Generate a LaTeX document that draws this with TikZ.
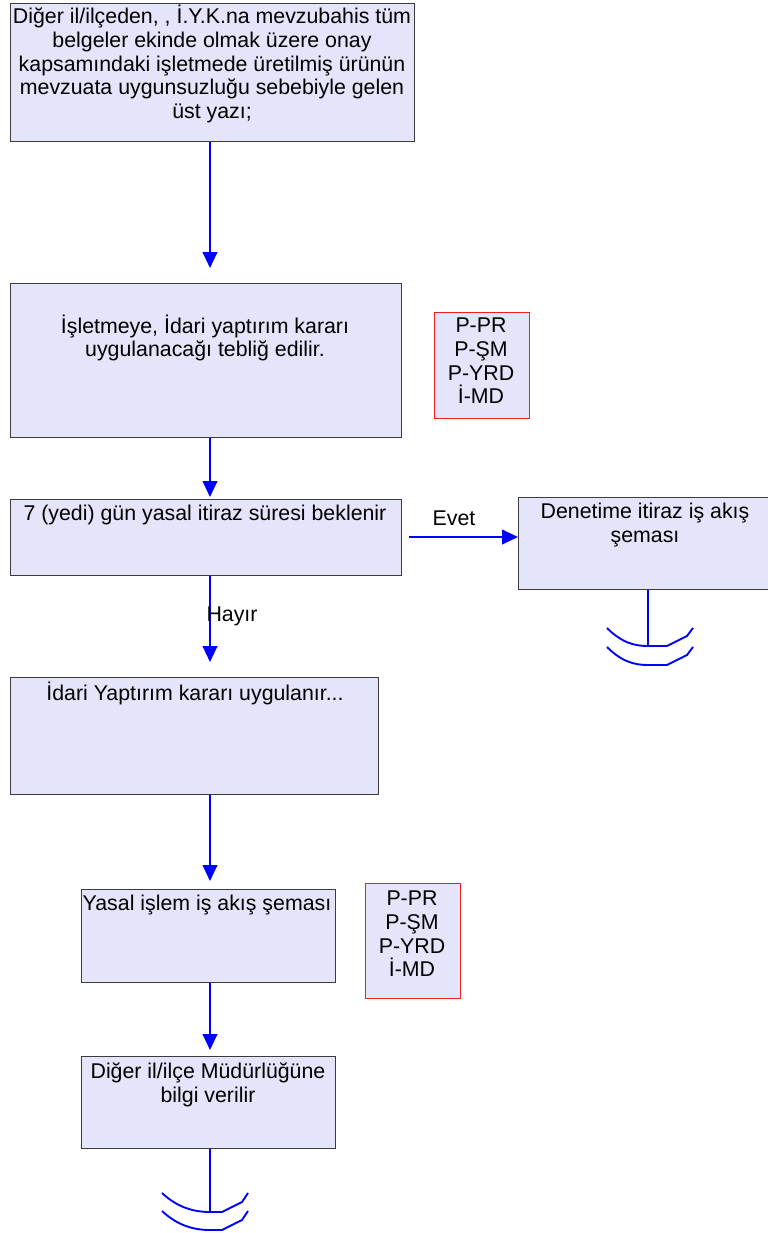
\documentclass[tikz,border=0pt]{standalone}
\usepackage{fontspec}
\setmainfont{Liberation Sans}
\usetikzlibrary{arrows.meta}
\definecolor{boxfill}{RGB}{228,228,250}
\definecolor{boxline}{RGB}{60,60,60}
\definecolor{flowblue}{RGB}{0,0,255}
\definecolor{redline}{RGB}{240,30,30}
\tikzset{
  px/.style={x=0.75pt,y=-0.75pt},
  flowbox/.style={draw=boxline,line width=1.1pt,fill=boxfill,inner sep=0pt,anchor=north west},
  refbox/.style={draw=redline,line width=0.8pt,fill=boxfill,inner sep=0pt,anchor=north west},
  txt/.style={font=\fontsize{16}{17.8}\selectfont,align=center,inner sep=0pt},
  arr/.style={draw=flowblue,line width=1.5pt,-{Triangle[length=12pt,width=11pt]}},
  endline/.style={draw=flowblue,line width=1.4pt},
}
\begin{document}
\begin{tikzpicture}[px]
\clip (0,0) rectangle (768,1233);
\fill[white] (0,0) rectangle (768,1233);
% boxes (size in px converted to pt)
\node[flowbox,minimum width=303pt,minimum height=103.5pt] (b1) at (10,3) {};
\node[flowbox,minimum width=293.25pt,minimum height=115.5pt] (b2) at (10,283) {};
\node[refbox,minimum width=71.25pt,minimum height=79.5pt] (r1) at (434,312) {};
\node[flowbox,minimum width=293.25pt,minimum height=57pt] (b3) at (10,499) {};
\node[flowbox,minimum width=200pt,minimum height=69pt] (b4) at (518,497) {};
\node[flowbox,minimum width=276pt,minimum height=87.75pt] (b5) at (10,677) {};
\node[flowbox,minimum width=190.5pt,minimum height=69.75pt] (b6) at (81,889) {};
\node[refbox,minimum width=71.25pt,minimum height=86.25pt] (r2) at (365,883) {};
\node[flowbox,minimum width=190.5pt,minimum height=69pt] (b7) at (81,1056) {};
% texts
\node[txt] (t1) at (212,64) {Diğer il/ilçeden, , İ.Y.K.na mevzubahis tüm\\belgeler ekinde olmak üzere onay\\kapsamındaki işletmede üretilmiş ürünün\\mevzuata uygunsuzluğu sebebiyle gelen\\üst yazı;};
\node[txt] (t2) at (205,338) {İşletmeye, İdari yaptırım kararı\\uygulanacağı tebliğ edilir.};
\node[txt] (tr1) at (481,361) {P-PR\\P-ŞM\\P-YRD\\İ-MD};
\node[txt] (t3) at (205,515) {7 (yedi) gün yasal itiraz süresi beklenir};
\node[txt] (t4) at (645,525) {Denetime itiraz iş akış\\şeması};
\node[txt] (t5) at (195,693) {İdari Yaptırım kararı uygulanır...};
\node[txt] (t6) at (207,905) {Yasal işlem iş akış şeması};
\node[txt] (tr2) at (412,934) {P-PR\\P-ŞM\\P-YRD\\İ-MD};
\node[txt] (t7) at (208,1084.5) {Diğer il/ilçe Müdürlüğüne\\bilgi verilir};
% arrow tips
\coordinate (a1) at (210,268);
\coordinate (a2) at (210,497);
\coordinate (a3) at (210,662);
\coordinate (a4) at (210,881);
\coordinate (a5) at (210,1050);
\coordinate (ev) at (409,537);
\coordinate (e1) at (648,647);
\coordinate (e2) at (210,1212);
% connectors
\draw[arr] (b1.south -| a1) -- (a1);
\draw[arr] (b2.south -| a2) -- (a2);
\draw[arr] (b3.south -| a3) -- (a3);
\draw[arr] (b5.south -| a4) -- (a4);
\draw[arr] (b6.south -| a5) -- (a5);
\draw[arr] (ev) -- (b4.west |- ev);
\node[txt] (evet) at (454,518) {Evet};
\node[txt] (hayir) at (232,616) {Hayır};
% end symbols
\draw[endline] (b4.south -| e1) -- (e1);
\draw[endline] (607,628) .. controls (622,643) and (635,646) .. (648,646) -- (667,646) -- (687,636) -- (693,628);
\draw[endline] (607,647) .. controls (622,662) and (635,665) .. (648,665) -- (667,665) -- (687,655) -- (693,647);
\draw[endline] (b7.south -| e2) -- (e2);
\draw[endline] (162,1193) .. controls (177,1207) and (193,1212) .. (210,1212) -- (222,1212) -- (242,1202) -- (248,1193);
\draw[endline] (162,1211) .. controls (177,1225) and (193,1230) .. (210,1230) -- (222,1230) -- (242,1220) -- (248,1211);
\end{tikzpicture}
\end{document}
